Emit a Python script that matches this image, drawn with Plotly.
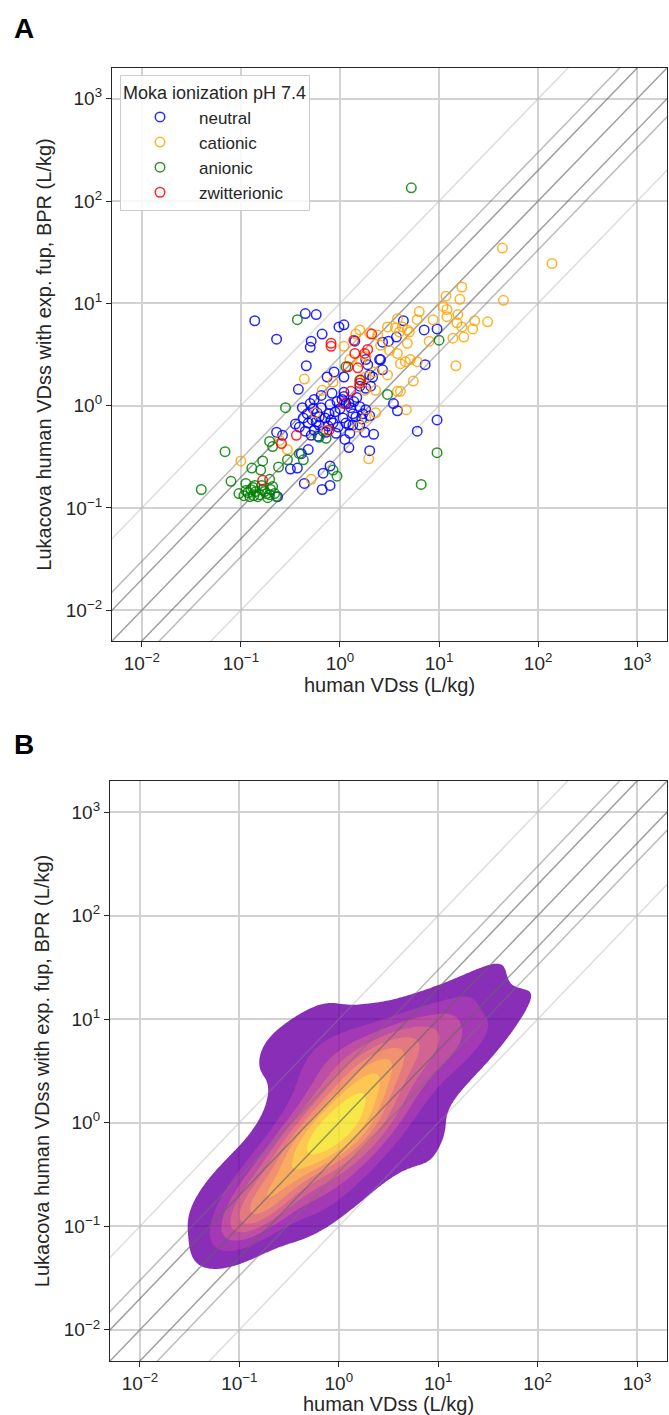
import numpy as np
import plotly.graph_objects as go

# ---------------- data (log10 of VDss) ----------------
neutral_x_log10 = [-0.86, -0.35, -0.24, -0.64, -0.18, -0.01, -0.29, -0.30, -0.34, -0.42, -0.13, -0.06,
                   -0.30, -0.10, -0.03, -0.37, -0.41, -0.32, -0.24, -0.21, -0.26, -0.17, -0.07, -0.02,
                   -0.14, -0.64, -0.58, -0.50, -0.43, -0.32, -0.36, -0.17, -0.10, -0.18, -0.10, -0.63,
                   -0.23, -0.21, -0.28, -0.11, -0.39,
                   0.04, 0.64, 0.85, 0.98, 0.57, 0.43, 0.15, 0.86, 0.40, 0.43, 0.28, 0.30, 0.04, 0.31,
                   0.20, 0.04, 0.04, 0.09, 0.14, 0.20, 0.26, 0.54, 0.58, 0.09, 0.25, 0.34, 0.98, 0.78,
                   0.09, 0.30, 0.13, 0.03, 0.06, 0.26, 0.26, 0.33, 0.41, 0.49, 0.23, 0.16, 0.13, 0.20, 0.06,
                   -0.38, -0.33, -0.27, -0.19, -0.15, -0.09, -0.05, 0.00, -0.35, -0.29, -0.22, -0.12,
                   -0.04, -0.45, -0.19, -0.26, 0.02, 0.11, 0.17, 0.22, 0.10, 0.30, -0.08, 0.05]
neutral_y_log10 = [0.83, 0.90, 0.89, 0.65, 0.70, 0.77, 0.63, 0.57, 0.39, 0.16, 0.28, 0.33,
                   0.02, 0.01, 0.04, -0.12, -0.21, -0.17, -0.16, -0.19, -0.24, -0.25, -0.17, -0.21,
                   -0.26, -0.26, -0.29, -0.62, -0.61, -0.43, -0.76, -0.66, -0.59, -0.82, -0.78, -0.89,
                   -0.07, -0.11, -0.14, -0.08, -0.47,
                   0.79, 0.83, 0.74, 0.75, 0.67, 0.62, 0.63, 0.40, 0.45, 0.35, 0.40, 0.30, 0.28, 0.19,
                   0.19, 0.13, 0.09, 0.02, 0.04, -0.01, -0.04, 0.02, -0.05, -0.19, -0.26, -0.28, -0.14, -0.25,
                   -0.41, -0.44, -0.08, -0.12, -0.17, 0.45, 0.17, 0.28, 0.45, 0.63, -0.08, -0.11, -0.19, -0.19, 0.02,
                   -0.02, -0.08, -0.03, -0.02, -0.12, -0.14, -0.06, -0.03, -0.25, -0.29, -0.30, -0.20,
                   -0.27, -0.18, 0.10, 0.06, 0.06, -0.02, 0.08, -0.13, -0.27, -0.10, 0.12, -0.33]

cationic_x_log10 = [-0.36, -0.07, -0.18, -0.25, -0.61, -0.53, -1.00, -0.29, -0.14,
                    1.64, 2.14, 1.23, 1.07, 1.21, 1.65, 0.80, 0.78, 1.04, 1.08, 1.08, 1.19, 0.94, 1.18,
                    1.23, 1.36, 1.49, 1.34, 1.14, 1.25, 1.17, 0.90, 0.74, 0.67, 0.61, 0.58, 0.36, 0.29,
                    0.48, 0.56, 0.63, 0.68, 0.60, 0.70, 0.50, 0.58, 0.68, 0.61, 0.66, 0.71, 0.78, 0.48,
                    0.20, 0.30, 0.38, 0.04, 0.41, 0.21, 0.26, 0.35, 0.26, 0.25, 0.26, 0.18, 0.36, 0.58,
                    0.16, 0.10]
cationic_y_log10 = [0.26, 0.23, 0.15, -0.07, -0.34, -0.43, -0.54, -0.72, -0.24,
                    1.54, 1.39, 1.16, 1.07, 1.04, 1.03, 0.92, 0.84, 0.97, 0.94, 0.87, 0.89, 0.84, 0.81,
                    0.77, 0.83, 0.82, 0.75, 0.66, 0.67, 0.39, 0.63, 0.24, -0.04, 0.14, 0.14, -0.07, -0.52,
                    0.77, 0.76, 0.77, 0.74, 0.72, 0.72, 0.54, 0.51, 0.61, 0.41, 0.43, 0.45, 0.43, 0.30,
                    0.74, 0.71, 0.69, 0.58, 0.59, 0.43, 0.48, 0.33, 0.28, 0.15, -0.12, -0.21, 0.15, 0.85,
                    0.70, 0.45]

anionic_x_log10 = [-0.43, -0.55, -0.68, -0.71, -1.16, -0.78, -0.89, -0.80, -0.62, -0.53, -0.41, -0.37,
                   -1.10, -1.40, -1.02, -0.95, -0.86, -0.71, -0.68, -0.91, -0.85, -0.74, -0.66, -0.81,
                   -0.90, -0.78, -0.71, -0.95, -0.07, -0.03, -0.21, -0.14, 1.00, 0.98, 0.82, 0.48,
                   0.20, 0.06, 0.72,
                   -0.93, -0.88, -0.83, -0.76, -0.70, -0.64, -0.87, -0.79, -0.97, -0.73]
anionic_y_log10 = [0.84, -0.02, -0.40, -0.35, -0.45, -0.54, -0.61, -0.63, -0.60, -0.53, -0.47, -0.53,
                   -0.74, -0.82, -0.86, -0.76, -0.78, -0.72, -0.79, -0.89, -0.84, -0.86, -0.86, -0.87,
                   -0.82, -0.82, -0.87, -0.83, -0.63, -0.69, -0.31, -0.32, 0.64, -0.46, -0.77, 0.11,
                   0.25, 0.38, 2.13,
                   -0.85, -0.80, -0.89, -0.84, -0.82, -0.89, -0.88, -0.78, -0.88, -0.90]

zwitterionic_x_log10 = [-0.09, -0.11, -0.59, -0.44, -0.78, 0.14, 0.32, 0.28, 0.25, 0.15, 0.08, 0.18,
                        0.21, 0.20, 0.11, 0.04, -0.09]
zwitterionic_y_log10 = [0.58, -0.24, -0.37, -0.29, -0.73, 0.64, 0.70, 0.55, 0.51, 0.51, 0.38, 0.37,
                        0.25, 0.22, 0.14, 0.02, 0.61]

categories = ["neutral", "cationic", "anionic", "zwitterionic"]
cat_colors = ["#0000ff", "#ffa500", "#008000", "#ff0000"]
cat_x = [neutral_x_log10, cationic_x_log10, anionic_x_log10, zwitterionic_x_log10]
cat_y = [neutral_y_log10, cationic_y_log10, anionic_y_log10, zwitterionic_y_log10]

tick_vals = [0.01, 0.1, 1, 10, 100, 1000]
tick_text = ["10<sup>−2</sup>", "10<sup>−1</sup>", "10<sup>0</sup>", "10<sup>1</sup>",
             "10<sup>2</sup>", "10<sup>3</sup>"]
axis_limits = [0.005, 2000]
fold_factors = [1, 2, 0.5, 3, 1 / 3, 10, 0.1]
fold_colors = ["rgba(100,100,100,0.62)", "rgba(100,100,100,0.62)", "rgba(100,100,100,0.62)",
               "rgba(115,115,115,0.48)", "rgba(115,115,115,0.48)",
               "rgba(150,150,150,0.32)", "rgba(150,150,150,0.32)"]
kde_band_colors = ["#6e01a8", "#900ea4", "#af2991", "#c9437b", "#dd5e66",
                   "#ed7b51", "#f89a3d", "#fcbd2c", "#f6e423"]
kde_bw_adjust = 1.12

W, H = 669, 1415
FONT = "Liberation Sans, Arial, Helvetica, sans-serif"

fig = go.Figure()

# ---------- fold lines ----------
def add_folds(xref, yref):
    for k, c in zip(fold_factors, fold_colors):
        xs = [axis_limits[0] / 10, axis_limits[1] * 10]
        fig.add_trace(go.Scatter(x=xs, y=[k * v for v in xs], mode="lines",
                                 line=dict(color=c, width=1.5), showlegend=False,
                                 hoverinfo="skip", xaxis=xref, yaxis=yref))

# ---------- panel A ----------
add_folds("x", "y")
for name, col, xs, ys in zip(categories, cat_colors, cat_x, cat_y):
    fig.add_trace(go.Scatter(
        x=np.power(10.0, xs), y=np.power(10.0, ys), mode="markers", name=name,
        marker=dict(symbol="circle-open", size=9.5, color=col, opacity=0.85,
                    line=dict(width=1.5, color=col)),
        xaxis="x", yaxis="y"))

# ---------- panel B : KDE of all points in log space ----------
px_all = np.concatenate([np.asarray(v, float) for v in cat_x])
py_all = np.concatenate([np.asarray(v, float) for v in cat_y])
n = px_all.size
cov = np.cov(np.vstack([px_all, py_all])) * (n ** (-1.0 / 6.0) * kde_bw_adjust) ** 2
inv = np.linalg.inv(cov)
lo, hi = np.log10(axis_limits[0]), np.log10(axis_limits[1])
gx = np.linspace(lo, hi, 260)
gy = np.linspace(lo, hi, 260)
GX, GY = np.meshgrid(gx, gy)
dens = np.zeros_like(GX)
for xi, yi in zip(px_all, py_all):
    dx = GX - xi
    dy = GY - yi
    dens += np.exp(-0.5 * (inv[0, 0] * dx * dx + 2 * inv[0, 1] * dx * dy + inv[1, 1] * dy * dy))
flat = dens.ravel()
order = np.argsort(flat)[::-1]
cum = np.cumsum(flat[order]) / flat.sum()
T = np.empty_like(flat)
T[order] = 1.0 - cum
T = T.reshape(dens.shape)

levels = np.linspace(0.05, 1.0, 10)
cs = levels[1] - levels[0]
nlev = 9
colorscale = [[0.0, "rgba(255,255,255,0)"]]
for i, c in enumerate(kde_band_colors):
    colorscale.append([(i + 1) / nlev, c])

fig.add_trace(go.Contour(
    x=np.power(10.0, gx), y=np.power(10.0, gy), z=T,
    autocontour=False,
    contours=dict(start=levels[0], end=levels[0] + (nlev - 1) * cs, size=cs,
                  coloring="fill", showlines=False),
    colorscale=colorscale, showscale=False, opacity=0.82,
    line=dict(width=0, smoothing=1.0), hoverinfo="skip",
    xaxis="x2", yaxis="y2"))
add_folds("x2", "y2")

# ---------- axes ----------
def axis(domain, anchor, title, standoff):
    return dict(
        type="log", range=[lo, hi], domain=domain, anchor=anchor,
        tickmode="array", tickvals=tick_vals, ticktext=tick_text,
        showgrid=True, gridcolor="#d2d2d2", gridwidth=1.5,
        showline=True, linecolor="#262626", linewidth=1.3, mirror=True,
        ticks="outside", ticklen=5, tickwidth=1.2, tickcolor="#262626",
        tickfont=dict(size=19, color="#262626", family=FONT),
        zeroline=False,
        title=dict(text=title, font=dict(size=20, color="#262626", family=FONT), standoff=standoff))

ylab = "Lukacova human VDss with exp. fup, BPR (L/kg)"
xlab = "human VDss (L/kg)"
fig.update_layout(
    width=W, height=H, margin=dict(l=0, r=0, t=0, b=0),
    paper_bgcolor="white", plot_bgcolor="white",
    font=dict(family=FONT, color="#262626"),
    xaxis=axis([112 / W, 667 / W], "y", xlab, 4),
    yaxis=axis([1 - 641 / H, 1 - 68 / H], "x", ylab, 8),
    xaxis2=axis([110 / W, 667 / W], "y2", xlab, 4),
    yaxis2=axis([1 - 1361 / H, 1 - 781 / H], "x2", ylab, 8),
    legend=dict(x=120 / W, y=1 - 75 / H, xanchor="left", yanchor="top",
                bgcolor="rgba(255,255,255,0.85)", bordercolor="#cccccc", borderwidth=1,
                font=dict(size=17, family=FONT, color="#262626"),
                title=dict(text="Moka ionization pH 7.4", font=dict(size=18, family=FONT)),
                itemwidth=68, tracegroupgap=0),
    annotations=[
        dict(text="<b>A</b>", x=12 / W, y=1 - 29 / H, xref="paper", yref="paper",
             xanchor="left", yanchor="middle", showarrow=False,
             font=dict(size=28, family=FONT, color="black")),
        dict(text="<b>B</b>", x=12 / W, y=1 - 744 / H, xref="paper", yref="paper",
             xanchor="left", yanchor="middle", showarrow=False,
             font=dict(size=28, family=FONT, color="black")),
    ],
)

fig.write_html("out.html", config={"displayModeBar": False},
               post_script="document.body.style.margin='0px';")
